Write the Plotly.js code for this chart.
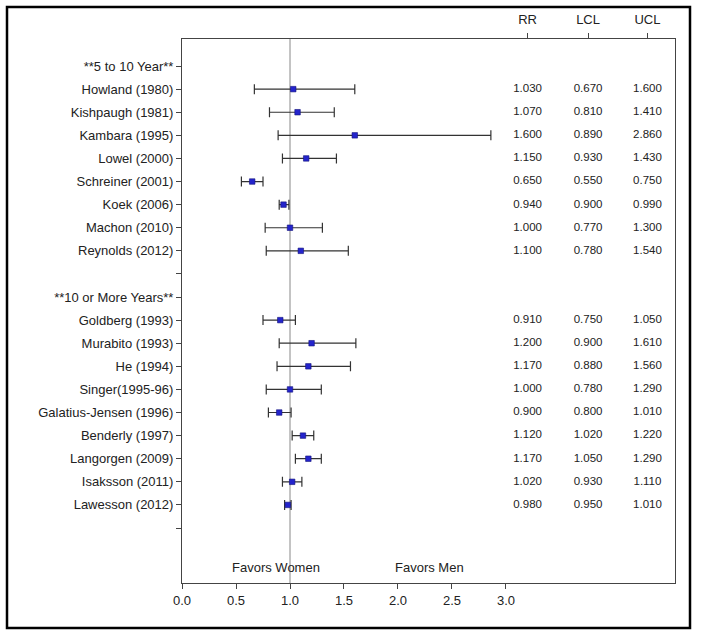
<!DOCTYPE html>
<html>
<head>
<meta charset="utf-8">
<script src="https://cdn.plot.ly/plotly-3.0.1.min.js"></script>
<style>
  html, body { margin: 0; padding: 0; background: #ffffff; }
  #chart { width: 701px; height: 638px; }
</style>
</head>
<body>
<div id="chart"></div>
<script>
// ---- Row labels (top to bottom), including group headers and blank spacer rows ----
const rowLabels = [
  "**5 to 10 Year**",
  "Howland (1980)",
  "Kishpaugh (1981)",
  "Kambara (1995)",
  "Lowel (2000)",
  "Schreiner (2001)",
  "Koek (2006)",
  "Machon (2010)",
  "Reynolds (2012)",
  "",
  "**10 or More Years**",
  "Goldberg (1993)",
  "Murabito (1993)",
  "He (1994)",
  "Singer(1995-96)",
  "Galatius-Jensen (1996)",
  "Benderly (1997)",
  "Langorgen (2009)",
  "Isaksson (2011)",
  "Lawesson (2012)",
  ""
];

// ---- Study data ----
const studies = [
  "Howland (1980)", "Kishpaugh (1981)", "Kambara (1995)", "Lowel (2000)",
  "Schreiner (2001)", "Koek (2006)", "Machon (2010)", "Reynolds (2012)",
  "Goldberg (1993)", "Murabito (1993)", "He (1994)", "Singer(1995-96)",
  "Galatius-Jensen (1996)", "Benderly (1997)", "Langorgen (2009)",
  "Isaksson (2011)", "Lawesson (2012)"
];
const rr  = [1.03, 1.07, 1.60, 1.15, 0.65, 0.94, 1.00, 1.10,
             0.91, 1.20, 1.17, 1.00, 0.90, 1.12, 1.17, 1.02, 0.98];
const lcl = [0.67, 0.81, 0.89, 0.93, 0.55, 0.90, 0.77, 0.78,
             0.75, 0.90, 0.88, 0.78, 0.80, 1.02, 1.05, 0.93, 0.95];
const ucl = [1.60, 1.41, 2.86, 1.43, 0.75, 0.99, 1.30, 1.54,
             1.05, 1.61, 1.56, 1.29, 1.01, 1.22, 1.29, 1.11, 1.01];

// ---- Axis tick labels ----
const xTickVals = [0, 0.5, 1.0, 1.5, 2.0, 2.5, 3.0];
const xTickText = ["0.0", "0.5", "1.0", "1.5", "2.0", "2.5", "3.0"];
const colHeaders = ["RR", "LCL", "UCL"];
const favorsText = ["Favors Women", "Favors Men"];

// ---- Layout constants (positions, not data) ----
const colPos = [3.2, 3.76, 4.31];
const favorsPos = [0.87, 2.29];
const favorsRow = 22.7;
const xRange = [0, 4.565];
const yRange = [23.38, -0.17];

const FONT = "Liberation Sans, Arial, sans-serif";
const TXT = "#222222";

// y position of each study = row index in rowLabels (1-based)
const yPos = studies.map(s => rowLabels.indexOf(s) + 1);
const rowVals = rowLabels.map((_, i) => i + 1);

const traces = [];

// Point estimates with CIs
traces.push({
  type: "scatter",
  mode: "markers",
  x: rr,
  y: yPos,
  marker: { symbol: "square", size: 5.5, color: "#2424cc", line: { color: "#12127a", width: 0.6 } },
  error_x: {
    type: "data",
    symmetric: false,
    array: ucl.map((u, i) => +(u - rr[i]).toFixed(4)),
    arrayminus: lcl.map((l, i) => +(rr[i] - l).toFixed(4)),
    color: "#333333",
    thickness: 1.2,
    width: 5
  },
  hoverinfo: "x+y",
  showlegend: false,
  cliponaxis: false
});

// Value columns
const cols = [rr, lcl, ucl];
cols.forEach((arr, c) => {
  traces.push({
    type: "scatter",
    mode: "text",
    x: arr.map(() => colPos[c]),
    y: yPos,
    text: arr.map(v => v.toFixed(3)),
    textposition: "middle center",
    textfont: { family: FONT, size: 11.5, color: TXT },
    hoverinfo: "skip",
    showlegend: false,
    cliponaxis: false
  });
});

// Dummy trace to activate top axis
traces.push({
  type: "scatter",
  mode: "markers",
  x: colPos,
  y: [1, 1, 1],
  xaxis: "x2",
  marker: { opacity: 0 },
  hoverinfo: "skip",
  showlegend: false
});

// Paper coords for outer border
const W = 701, H = 638;
const ml = 182, mr = 26, mt = 39, mb = 55;
const pw = W - ml - mr, ph = H - mt - mb;
const bx0 = (7 - ml) / pw, bx1 = (690 - ml) / pw;
const by1 = (H - mb - 7) / ph, by0 = (H - mb - 628) / ph;

const layout = {
  width: W,
  height: H,
  margin: { l: ml, r: mr, t: mt, b: mb, pad: 0 },
  paper_bgcolor: "#ffffff",
  plot_bgcolor: "#ffffff",
  font: { family: FONT, size: 13, color: TXT },
  showlegend: false,
  xaxis: {
    range: xRange,
    tickmode: "array",
    tickvals: xTickVals,
    ticktext: xTickText,
    ticks: "outside",
    ticklen: 5,
    tickwidth: 1,
    tickcolor: "#444",
    showline: true,
    linecolor: "#444",
    linewidth: 1,
    mirror: true,
    showgrid: false,
    zeroline: false,
    tickfont: { family: FONT, size: 13, color: TXT },
    fixedrange: true
  },
  xaxis2: {
    overlaying: "x",
    side: "top",
    range: xRange,
    tickmode: "array",
    tickvals: colPos,
    ticktext: colHeaders,
    ticks: "outside",
    ticklen: 5,
    tickwidth: 1,
    tickcolor: "#444",
    ticklabelstandoff: 4,
    showline: false,
    showgrid: false,
    zeroline: false,
    tickfont: { family: FONT, size: 13, color: TXT },
    fixedrange: true
  },
  yaxis: {
    range: yRange,
    tickmode: "array",
    tickvals: rowVals,
    ticktext: rowLabels,
    ticks: "outside",
    ticklen: 5,
    tickwidth: 1,
    tickcolor: "#444",
    showline: true,
    linecolor: "#444",
    linewidth: 1,
    mirror: true,
    showgrid: false,
    zeroline: false,
    tickfont: { family: FONT, size: 13, color: TXT },
    fixedrange: true
  },
  shapes: [
    {
      type: "line", xref: "x", yref: "paper",
      x0: 1, x1: 1, y0: 0, y1: 1,
      line: { color: "#888888", width: 1 },
      layer: "below"
    },
    {
      type: "rect", xref: "paper", yref: "paper",
      x0: bx0, x1: bx1, y0: by0, y1: by1,
      line: { color: "#000000", width: 2.5 },
      fillcolor: "rgba(0,0,0,0)"
    }
  ],
  annotations: favorsText.map((t, i) => ({
    x: favorsPos[i], y: favorsRow, xref: "x", yref: "y",
    text: t, showarrow: false,
    font: { family: FONT, size: 13, color: TXT },
    xanchor: "center", yanchor: "middle"
  }))
};

Plotly.newPlot("chart", traces, layout, { displayModeBar: false, staticPlot: true });
</script>
</body>
</html>
